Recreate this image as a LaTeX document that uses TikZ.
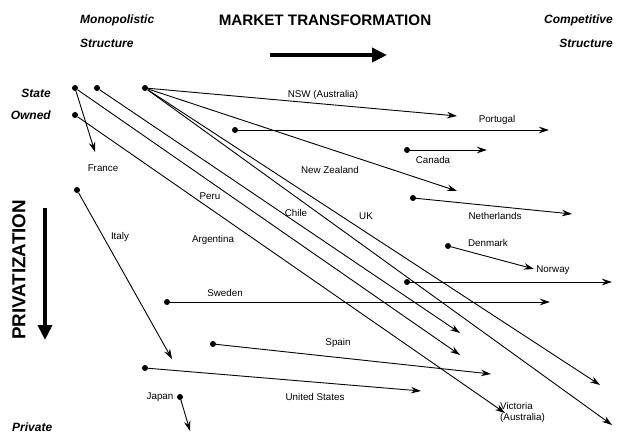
\documentclass[tikz,border=0pt]{standalone}
\usepackage{fontspec}
\setmainfont{Liberation Sans}
\usetikzlibrary{arrows.meta}
\tikzset{
  dot/.style={circle,fill=black,inner sep=0pt,minimum size=6pt},
  lbl/.style={inner sep=0pt,font=\fontsize{9.8}{11}\selectfont},
  hdr/.style={inner sep=0pt,font=\fontsize{12}{14}\selectfont\bfseries\itshape},
  tip/.style={line width=0.9pt,-{Stealth[length=10pt,width=6.5pt]}},
  bigarrow/.style={line width=3.8pt,-{Triangle[length=15pt,width=14pt]}}
}
\begin{document}
\begin{tikzpicture}[x=1pt,y=-1pt]
\useasboundingbox (0,0) rectangle (620,435);
% headers
\node[hdr,anchor=west] (mono1) at (80,20) {Monopolistic};
\node[hdr,anchor=west] (mono2) at (80,43) {Structure};
\node[inner sep=0pt,font=\fontsize{15.2}{17}\selectfont\bfseries] (mt) at (325,20) {MARKET TRANSFORMATION};
\node[hdr,anchor=east] (comp1) at (613,20) {Competitive};
\node[hdr,anchor=east] (comp2) at (613,43) {Structure};
\coordinate (ha) at (270,55);
\coordinate (hb) at (387,55);
\draw[bigarrow] (ha) -- (hb);
\node[hdr,anchor=east] (state) at (51,93) {State};
\node[hdr,anchor=east] (owned) at (51,115) {Owned};
\node[hdr,anchor=west] (priv) at (12,427) {Private};
\node[inner sep=0pt,font=\fontsize{18.8}{21}\selectfont\bfseries,rotate=90] (privat) at (19,270) {PRIVATIZATION};
\coordinate (va) at (45,208);
\coordinate (vb) at (45,340);
\draw[bigarrow] (va) -- (vb);
% dots
\node[dot] (A) at (75,88) {};
\node[dot] (B) at (97,88) {};
\node[dot] (C) at (145,88) {};
\node[dot] (D) at (75,115) {};
\node[dot] (E) at (77,190) {};
\node[dot] (por) at (235,130) {};
\node[dot] (can) at (407,150) {};
\node[dot] (net) at (413,198) {};
\node[dot] (den) at (448,246) {};
\node[dot] (nor) at (407,282) {};
\node[dot] (swe) at (167,302) {};
\node[dot] (spa) at (213,344) {};
\node[dot] (usa) at (145,368) {};
\node[dot] (jap) at (180,397) {};
% end points
\coordinate (eFr) at (95,152);
\coordinate (eNSW) at (457,116);
\coordinate (eNZ) at (457,191);
\coordinate (ePor) at (549,130);
\coordinate (eCan) at (487,150);
\coordinate (eNet) at (572,214);
\coordinate (eDen) at (534,269);
\coordinate (eNor) at (612,282);
\coordinate (eSwe) at (550,302);
\coordinate (eSpa) at (491,374);
\coordinate (eUsa) at (421,391);
\coordinate (eJap) at (190,431);
\coordinate (eIt) at (172,359);
\coordinate (e1) at (460,333);
\coordinate (e2) at (460,355);
\coordinate (e3) at (505,413);
\coordinate (e4) at (600,385);
\coordinate (e5) at (612,425);
% connectors
\draw[tip] (A) -- (eFr);
\draw[tip] (A) -- (e2);
\draw[tip] (B) -- (e1);
\draw[tip] (D) -- (e3);
\draw[tip] (C) -- (e4);
\draw[tip] (C) -- (e5);
\draw[tip] (C) -- (eNSW);
\draw[tip] (C) -- (eNZ);
\draw[tip] (E) -- (eIt);
\draw[tip] (por) -- (ePor);
\draw[tip] (can) -- (eCan);
\draw[tip] (net) -- (eNet);
\draw[tip] (den) -- (eDen);
\draw[tip] (nor) -- (eNor);
\draw[tip] (swe) -- (eSwe);
\draw[tip] (spa) -- (eSpa);
\draw[tip] (usa) -- (eUsa);
\draw[tip] (jap) -- (eJap);
% labels
\node[lbl] (lNSW) at (323,95) {NSW (Australia)};
\node[lbl] (lPor) at (497,120) {Portugal};
\node[lbl] (lCan) at (433,160) {Canada};
\node[lbl] (lNZ) at (330,170) {New Zealand};
\node[lbl] (lFr) at (103,168) {France};
\node[lbl] (lPe) at (210,196) {Peru};
\node[lbl] (lCh) at (296,213) {Chile};
\node[lbl] (lUK) at (366,216) {UK};
\node[lbl] (lNe) at (495,216) {Netherlands};
\node[lbl] (lIt) at (120,237) {Italy};
\node[lbl] (lAr) at (213,240) {Argentina};
\node[lbl] (lDe) at (488,243) {Denmark};
\node[lbl] (lNo) at (553,270) {Norway};
\node[lbl] (lSw) at (225,293) {Sweden};
\node[lbl] (lSp) at (338,343) {Spain};
\node[lbl] (lUS) at (315,397) {United States};
\node[lbl] (lJa) at (160,397) {Japan};
\node[lbl,anchor=west,align=left] (lVi) at (500,412) {Victoria\\(Australia)};
\end{tikzpicture}
\end{document}
